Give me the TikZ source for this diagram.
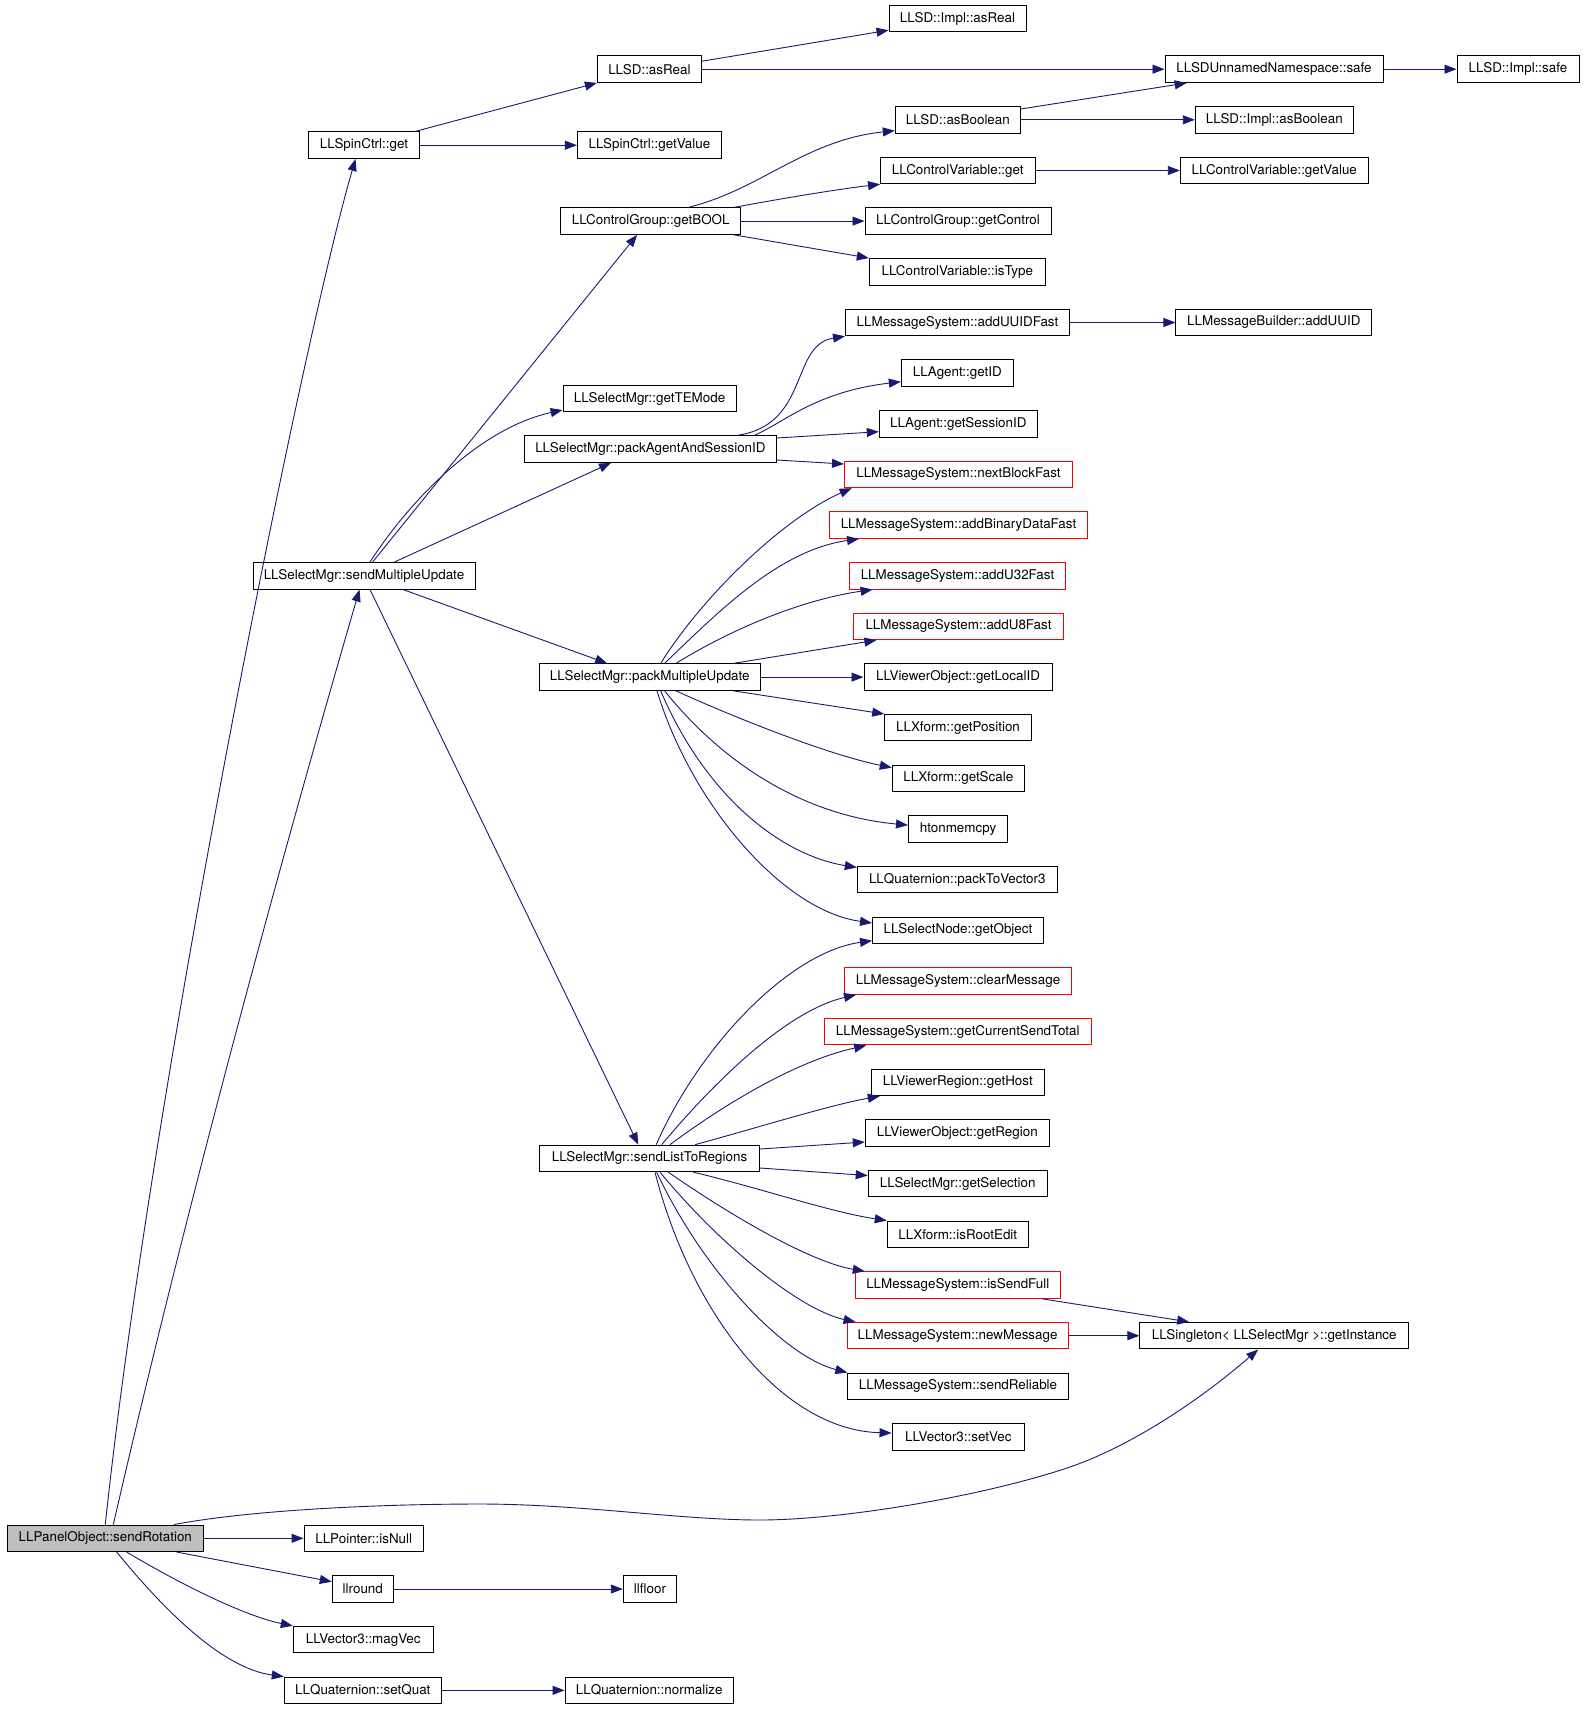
\documentclass[tikz,border=0pt]{standalone}
\usepackage{fontspec}
\setmainfont{TeX Gyre Heros}
\usetikzlibrary{arrows.meta}
\definecolor{edgeblue}{HTML}{191970}
\definecolor{boxred}{HTML}{FF0000}
\definecolor{boxgray}{HTML}{BFBFBF}
\begin{document}
\begin{tikzpicture}[x=1pt,y=-1pt,
  fn/.style={draw=black, line width=1pt, inner sep=0pt, minimum height=26.5pt,
    anchor=center, font=\fontsize{13.4}{15}\selectfont, text=black},
  redfn/.style={fn, draw=boxred},
  rootfn/.style={fn, fill=boxgray},
  edge/.style={draw=edgeblue, line width=0.9pt,
    -{Triangle[length=12pt,width=9pt]}, fill=none}]
\fill[white] (0,0) rectangle (1584,1709);
% nodes
\node[fn, minimum width=137pt] (implasreal) at (957.5,18.5) {LLSD::Impl::asReal};
\node[fn, minimum width=104pt] (asreal) at (649.4,69.2) {LLSD::asReal};
\node[fn, minimum width=218pt] (safe) at (1274,69.2) {LLSDUnnamedNamespace::safe};
\node[fn, minimum width=122pt] (implsafe) at (1518,69.2) {LLSD::Impl::safe};
\node[fn, minimum width=125pt] (asbool) at (957.8,119.8) {LLSD::asBoolean};
\node[fn, minimum width=158pt] (implasbool) at (1274.3,119.8) {LLSD::Impl::asBoolean};
\node[fn, minimum width=110.7pt] (spinget) at (364,145.2) {LLSpinCtrl::get};
\node[fn, minimum width=144pt] (spinval) at (649.4,145.2) {LLSpinCtrl::getValue};
\node[fn, minimum width=154.5pt] (cvget) at (957.8,170.5) {LLControlVariable::get};
\node[fn, minimum width=188pt] (cvval) at (1274.3,170.5) {LLControlVariable::getValue};
\node[fn, minimum width=180pt] (getbool) at (650.7,221.1) {LLControlGroup::getBOOL};
\node[fn, minimum width=186pt] (getctrl) at (958,221.1) {LLControlGroup::getControl};
\node[fn, minimum width=176pt] (istype) at (957.3,271.8) {LLControlVariable::isType};
\node[fn, minimum width=224pt] (auf) at (957.5,322.5) {LLMessageSystem::addUUIDFast};
\node[fn, minimum width=195.7pt] (adduuid) at (1273.8,322.5) {LLMessageBuilder::addUUID};
\node[fn, minimum width=112pt] (getid) at (957.3,373.1) {LLAgent::getID};
\node[fn, minimum width=173pt] (tem) at (649.6,398.5) {LLSelectMgr::getTEMode};
\node[fn, minimum width=158pt] (gsid) at (958.3,423.8) {LLAgent::getSessionID};
\node[fn, minimum width=252pt] (pa) at (650.4,449.1) {LLSelectMgr::packAgentAndSessionID};
\node[redfn, minimum width=228pt] (nbf) at (958.5,474.4) {LLMessageSystem::nextBlockFast};
\node[redfn, minimum width=258pt] (abdf) at (958.5,525.1) {LLMessageSystem::addBinaryDataFast};
\node[fn, minimum width=222pt] (smu) at (364,575.8) {LLSelectMgr::sendMultipleUpdate};
\node[redfn, minimum width=216pt] (au32) at (957.5,575.8) {LLMessageSystem::addU32Fast};
\node[redfn, minimum width=210pt] (au8) at (958.5,626.4) {LLMessageSystem::addU8Fast};
\node[fn, minimum width=221pt] (pmu) at (649.8,677.1) {LLSelectMgr::packMultipleUpdate};
\node[fn, minimum width=188pt] (glid) at (958,677.1) {LLViewerObject::getLocalID};
\node[fn, minimum width=146.6pt] (gpos) at (958,727.7) {LLXform::getPosition};
\node[fn, minimum width=132pt] (gscale) at (958.3,778.4) {LLXform::getScale};
\node[fn, minimum width=99pt] (hton) at (958,829.1) {htonmemcpy};
\node[fn, minimum width=200pt] (ptv) at (957.3,879.7) {LLQuaternion::packToVector3};
\node[fn, minimum width=171pt] (getobj) at (958,930.4) {LLSelectNode::getObject};
\node[redfn, minimum width=227pt] (clear) at (958,981) {LLMessageSystem::clearMessage};
\node[redfn, minimum width=267pt] (gcst) at (957.8,1031.7) {LLMessageSystem::getCurrentSendTotal};
\node[fn, minimum width=173pt] (ghost) at (957.8,1082.4) {LLViewerRegion::getHost};
\node[fn, minimum width=184pt] (greg) at (957.3,1133) {LLViewerObject::getRegion};
\node[fn, minimum width=220pt] (slr) at (649.5,1158.4) {LLSelectMgr::sendListToRegions};
\node[fn, minimum width=179pt] (gsel) at (957.7,1183.7) {LLSelectMgr::getSelection};
\node[fn, minimum width=141pt] (isroot) at (957.8,1234.3) {LLXform::isRootEdit};
\node[redfn, minimum width=205pt] (isf) at (957.8,1285) {LLMessageSystem::isSendFull};
\node[redfn, minimum width=221pt] (newmsg) at (957.6,1335.7) {LLMessageSystem::newMessage};
\node[fn, minimum width=268.5pt] (inst) at (1274.2,1335.7) {LLSingleton< LLSelectMgr >::getInstance};
\node[fn, minimum width=220.4pt] (sendrel) at (958,1386.3) {LLMessageSystem::sendReliable};
\node[fn, minimum width=132.5pt] (setvec) at (958.3,1437) {LLVector3::setVec};
\node[rootfn, minimum width=196pt] (rot) at (105.3,1538.3) {LLPanelObject::sendRotation};
\node[fn, minimum width=119.3pt] (isnull) at (363.7,1538.3) {LLPointer::isNull};
\node[fn, minimum width=61pt] (llround) at (362.8,1589) {llround};
\node[fn, minimum width=53.4pt] (llfloor) at (650,1589) {llfloor};
\node[fn, minimum width=140pt] (magvec) at (363.3,1639.6) {LLVector3::magVec};
\node[fn, minimum width=157pt] (setquat) at (362.8,1690.3) {LLQuaternion::setQuat};
\node[fn, minimum width=168.3pt] (normalize) at (649.2,1690.3) {LLQuaternion::normalize};
% edges from sendRotation
\draw[edge] (rot.north) .. controls (150,1100) and (300,350) .. ([xshift=-8.5pt]spinget.south);
\draw[edge] ([xshift=8pt]rot.north) .. controls (185,1213) and (275,880) .. ([xshift=-4.5pt]smu.south);
\draw[edge] ([xshift=68.7pt]rot.north) .. controls (250,1510) and (380,1504) .. (480,1504)
  .. controls (580,1504) and (680,1520) .. (760,1520)
  .. controls (840,1520) and (980,1497) .. (1067,1468)
  .. controls (1130,1447) and (1200,1400) .. ([xshift=-16pt]inst.south);
\draw[edge] (rot.east) -- (isnull.west);
\draw[edge] ([xshift=71.4pt]rot.south) -- ([yshift=7.3pt]llround.west);
\draw[edge] ([xshift=21.4pt]rot.south) .. controls (170,1578) and (240,1615) .. (magvec.north west);
\draw[edge] ([xshift=11.4pt]rot.south) .. controls (160,1605) and (220,1668) .. (setquat.north west);
\draw[edge] (llround.east) -- (llfloor.west);
\draw[edge] (setquat.east) -- (normalize.west);
% LLSpinCtrl::get
\draw[edge] ([xshift=51pt]spinget.north) -- (asreal.south west);
\draw[edge] (spinget.east) -- (spinval.west);
\draw[edge] ([yshift=8pt]asreal.east) -- ([yshift=2pt]implasreal.south west);
\draw[edge] (asreal.east) -- (safe.west);
\draw[edge] (safe.east) -- (implsafe.west);
\draw[edge] ([yshift=10.8pt]asbool.east) -- ([xshift=-87.3pt]safe.south);
\draw[edge] (asbool.east) -- (implasbool.west);
% getBOOL
\draw[edge] ([xshift=37.5pt]getbool.north) .. controls (760,190) and (805,140) .. ([yshift=-10.9pt]asbool.west);
\draw[edge] ([xshift=83.4pt]getbool.north) .. controls (790,197) and (840,189) .. (cvget.south west);
\draw[edge] (getbool.east) -- (getctrl.west);
\draw[edge] ([xshift=83.4pt]getbool.south) -- (istype.north west);
\draw[edge] (cvget.east) -- (cvval.west);
% sendMultipleUpdate
\draw[edge] ([xshift=8.6pt]smu.north) -- ([xshift=-13.6pt]getbool.south);
\draw[edge] ([xshift=6pt]smu.north) .. controls (410,500) and (480,428) .. ([yshift=-11.5pt]tem.west);
\draw[edge] ([xshift=30.4pt]smu.north) -- ([xshift=-39.4pt]pa.south);
\draw[edge] ([xshift=39pt]smu.south) -- ([xshift=-42.6pt]pmu.north);
\draw[edge] ([xshift=6pt]smu.south) -- ([xshift=-11.2pt]slr.north);
% packAgentAndSessionID
\draw[edge] ([xshift=86.6pt]pa.north) .. controls (810,425) and (790,345) .. (auf.south west);
\draw[edge] ([xshift=104pt]pa.north) .. controls (785,422) and (815,392) .. ([yshift=-8.6pt]getid.west);
\draw[edge] ([yshift=11.1pt]pa.east) -- ([yshift=-7.9pt]gsid.west);
\draw[edge] ([yshift=-10.9pt]pa.east) -- ([yshift=10.4pt]nbf.west);
\draw[edge] (auf.east) -- (adduuid.west);
% packMultipleUpdate
\draw[edge] ([xshift=10.9pt]pmu.north) .. controls (700,600) and (780,520) .. ([xshift=7.6pt]nbf.south west);
\draw[edge] ([xshift=14.8pt]pmu.north) .. controls (720,610) and (780,550) .. ([xshift=30pt]abdf.south west);
\draw[edge] ([xshift=26.2pt]pmu.north) .. controls (730,630) and (800,600) .. ([xshift=23.6pt]au32.south west);
\draw[edge] ([xshift=83.6pt]pmu.north) -- ([xshift=23.4pt]au8.south west);
\draw[edge] (pmu.east) -- (glid.west);
\draw[edge] ([xshift=83.6pt]pmu.south) -- (gpos.north west);
\draw[edge] ([xshift=26.2pt]pmu.south) .. controls (740,720) and (830,755) .. ([yshift=-3pt]gscale.north west);
\draw[edge] ([xshift=14.8pt]pmu.south) .. controls (720,760) and (800,815) .. ([yshift=4pt]hton.west);
\draw[edge] ([xshift=10.9pt]pmu.south) .. controls (705,795) and (780,855) .. ([yshift=-1.5pt]ptv.north west);
\draw[edge] ([xshift=7.2pt]pmu.south) .. controls (690,800) and (780,910) .. ([yshift=7.4pt]getobj.west);
% sendListToRegions
\draw[edge] ([xshift=6.7pt]slr.north) .. controls (700,1045) and (790,952) .. ([yshift=-10.3pt]getobj.west);
\draw[edge] ([xshift=12.2pt]slr.north) .. controls (720,1075) and (790,1010) .. ([xshift=12pt]clear.south west);
\draw[edge] ([xshift=20.5pt]slr.north) .. controls (730,1100) and (800,1060) .. ([xshift=42.4pt]gcst.south west);
\draw[edge] ([xshift=45.5pt]slr.north) .. controls (760,1127) and (830,1105) .. ([xshift=9pt]ghost.south west);
\draw[edge] ([yshift=9.4pt]slr.east) -- ([yshift=-9pt]greg.west);
\draw[edge] ([yshift=-9.6pt]slr.east) -- ([yshift=8.2pt]gsel.west);
\draw[edge] ([xshift=43.8pt]slr.south) .. controls (760,1188) and (830,1212) .. (isroot.north west);
\draw[edge] ([xshift=18.8pt]slr.south) .. controls (730,1215) and (810,1262) .. ([xshift=10pt]isf.north west);
\draw[edge] ([xshift=10.5pt]slr.south) .. controls (720,1245) and (800,1310) .. ([xshift=9pt]newmsg.north west);
\draw[edge] ([xshift=7.2pt]slr.south) .. controls (700,1265) and (780,1355) .. (sendrel.north west);
\draw[edge] ([xshift=5.5pt]slr.south) .. controls (690,1310) and (780,1430) .. ([yshift=4pt]setvec.west);
% getInstance
\draw[edge] ([xshift=84pt]isf.south) -- ([xshift=-85pt]inst.north);
\draw[edge] (newmsg.east) -- (inst.west);
\end{tikzpicture}
\end{document}
